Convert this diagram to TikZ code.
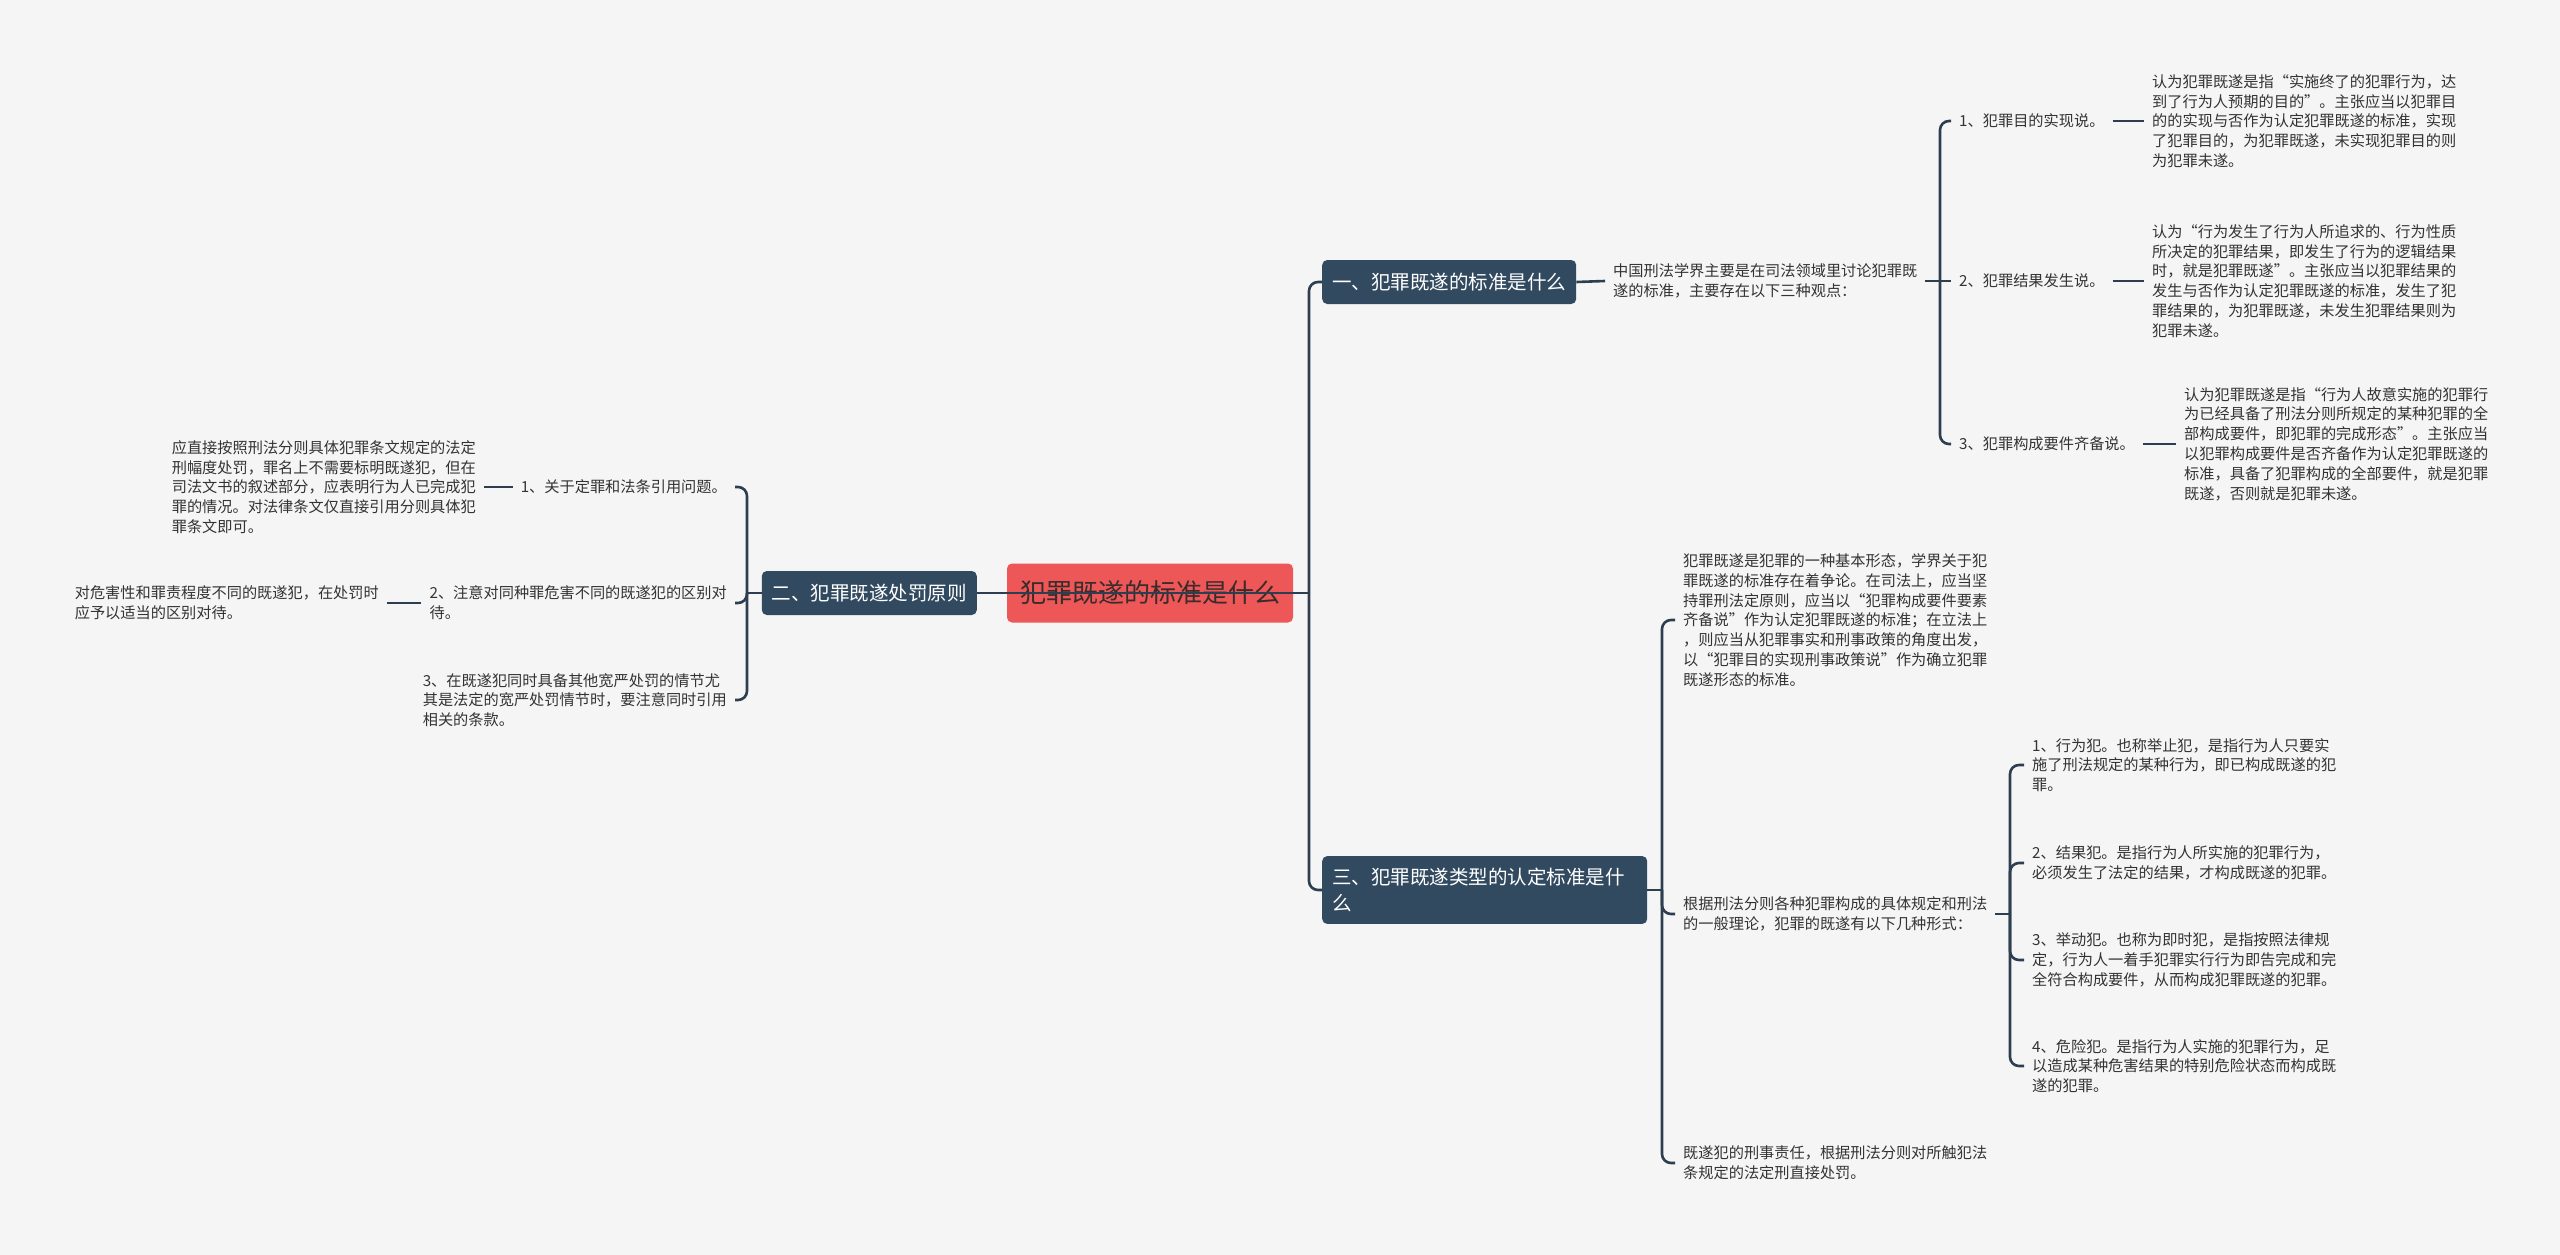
\documentclass[tikz,border=0pt]{standalone}
\usepackage{fontspec}
\setmainfont{Noto Sans CJK SC}

\definecolor{bgc}{HTML}{F5F5F5}
\definecolor{linec}{HTML}{2C3E50}
\definecolor{topicc}{HTML}{324A60}
\definecolor{rootc}{HTML}{EE5757}
\definecolor{roottext}{HTML}{3B2B2B}
\definecolor{leaftext}{HTML}{333333}

\tikzset{
  conn/.style={draw=linec, line width=2.6pt, rounded corners=9pt},
  rootbox/.style={fill=rootc, text=roottext, rounded corners=5pt,
    font=\fontsize{26}{30}\selectfont, minimum width=286pt, minimum height=59pt},
  topic/.style={fill=topicc, text=white, rounded corners=5pt, align=left,
    font=\fontsize{19.5}{26}\selectfont, inner xsep=10pt, inner ysep=12pt, minimum height=44pt},
  leaf/.style={text=leaftext, align=left, inner xsep=8pt, inner ysep=2pt,
    font=\fontsize{15.2}{19.8}\selectfont}
}

\begin{document}
\begin{tikzpicture}[x=1pt,y=-1pt]
  \fill[bgc] (0,0) rectangle (2560,1255);
  \useasboundingbox (0,0) rectangle (2560,1255);

  % centre and main topics
  \node[rootbox] (root) at (1150,593) {犯罪既遂的标准是什么};
  \node[topic, anchor=west] (sec1) at (1322,282) {一、犯罪既遂的标准是什么};
  \node[topic, anchor=east] (sec2) at (977,593) {二、犯罪既遂处罚原则};
  \node[topic, anchor=west, text width=305pt] (sec3) at (1322,890) {三、犯罪既遂类型的认定标准是什\\么};

  \coordinate (rt) at (1309,593);
  \coordinate (lt) at (747,593);
  \draw[conn] (sec2.east) -- (rt);
  \draw[conn] (sec2.west) -- (lt);
  \draw[conn] (rt) |- (sec1.west);
  \draw[conn] (rt) |- (sec3.west);

  % section one
  \node[leaf, anchor=west] (view) at (1605,281) {中国刑法学界主要是在司法领域里讨论犯罪既\\遂的标准，主要存在以下三种观点：};
  \node[leaf, anchor=west] (goal) at (1951,121) {1、犯罪目的实现说。};
  \node[leaf, anchor=west] (result) at (1951,281) {2、犯罪结果发生说。};
  \node[leaf, anchor=west] (elem) at (1951,444) {3、犯罪构成要件齐备说。};
  \node[leaf, anchor=west] (goaltxt) at (2144,121) {认为犯罪既遂是指“实施终了的犯罪行为，达\\到了行为人预期的目的”。主张应当以犯罪目\\的的实现与否作为认定犯罪既遂的标准，实现\\了犯罪目的，为犯罪既遂，未实现犯罪目的则\\为犯罪未遂。};
  \node[leaf, anchor=west] (resulttxt) at (2144,281) {认为“行为发生了行为人所追求的、行为性质\\所决定的犯罪结果，即发生了行为的逻辑结果\\时，就是犯罪既遂”。主张应当以犯罪结果的\\发生与否作为认定犯罪既遂的标准，发生了犯\\罪结果的，为犯罪既遂，未发生犯罪结果则为\\犯罪未遂。};
  \node[leaf, anchor=west] (elemtxt) at (2176,444) {认为犯罪既遂是指“行为人故意实施的犯罪行\\为已经具备了刑法分则所规定的某种犯罪的全\\部构成要件，即犯罪的完成形态”。主张应当\\以犯罪构成要件是否齐备作为认定犯罪既遂的\\标准，具备了犯罪构成的全部要件，就是犯罪\\既遂，否则就是犯罪未遂。};

  \coordinate (t1) at (1940,281);
  \draw[conn] (sec1.east) -- (view.west);
  \draw[conn] (view.east) -- (t1);
  \draw[conn] (t1) |- (goal.west);
  \draw[conn] (t1) -- (result.west);
  \draw[conn] (t1) |- (elem.west);
  \draw[conn] (goal.east) -- (goaltxt.west);
  \draw[conn] (result.east) -- (resulttxt.west);
  \draw[conn] (elem.east) -- (elemtxt.west);

  % section two
  \node[leaf, anchor=east] (conv) at (735,487) {1、关于定罪和法条引用问题。};
  \node[leaf, anchor=east] (harm) at (735,603) {2、注意对同种罪危害不同的既遂犯的区别对\\待。};
  \node[leaf, anchor=east] (cite) at (735,700) {3、在既遂犯同时具备其他宽严处罚的情节尤\\其是法定的宽严处罚情节时，要注意同时引用\\相关的条款。};
  \node[leaf, anchor=east] (convtxt) at (484,487) {应直接按照刑法分则具体犯罪条文规定的法定\\刑幅度处罚，罪名上不需要标明既遂犯，但在\\司法文书的叙述部分，应表明行为人已完成犯\\罪的情况。对法律条文仅直接引用分则具体犯\\罪条文即可。};
  \node[leaf, anchor=east] (harmtxt) at (387,603) {对危害性和罪责程度不同的既遂犯，在处罚时\\应予以适当的区别对待。};

  \draw[conn] (lt) |- (conv.east);
  \draw[conn] (lt) |- (harm.east);
  \draw[conn] (lt) |- (cite.east);
  \draw[conn] (conv.west) -- (convtxt.east);
  \draw[conn] (harm.west) -- (harmtxt.east);

  % section three
  \node[leaf, anchor=west] (basic) at (1675,620) {犯罪既遂是犯罪的一种基本形态，学界关于犯\\罪既遂的标准存在着争论。在司法上，应当坚\\持罪刑法定原则，应当以“犯罪构成要件要素\\齐备说”作为认定犯罪既遂的标准；在立法上\\，则应当从犯罪事实和刑事政策的角度出发，\\以“犯罪目的实现刑事政策说”作为确立犯罪\\既遂形态的标准。};
  \node[leaf, anchor=west] (forms) at (1675,914) {根据刑法分则各种犯罪构成的具体规定和刑法\\的一般理论，犯罪的既遂有以下几种形式：};
  \node[leaf, anchor=west] (liab) at (1675,1163) {既遂犯的刑事责任，根据刑法分则对所触犯法\\条规定的法定刑直接处罚。};
  \node[leaf, anchor=west] (act) at (2024,765) {1、行为犯。也称举止犯，是指行为人只要实\\施了刑法规定的某种行为，即已构成既遂的犯\\罪。};
  \node[leaf, anchor=west] (res) at (2024,863) {2、结果犯。是指行为人所实施的犯罪行为，\\必须发生了法定的结果，才构成既遂的犯罪。};
  \node[leaf, anchor=west] (inst) at (2024,960) {3、举动犯。也称为即时犯，是指按照法律规\\定，行为人一着手犯罪实行行为即告完成和完\\全符合构成要件，从而构成犯罪既遂的犯罪。};
  \node[leaf, anchor=west] (dang) at (2024,1066) {4、危险犯。是指行为人实施的犯罪行为，足\\以造成某种危害结果的特别危险状态而构成既\\遂的犯罪。};

  \coordinate (t3) at (1662,890);
  \coordinate (t4) at (2010,914);
  \draw[conn] (sec3.east) -- (t3);
  \draw[conn] (t3) |- (basic.west);
  \draw[conn] (t3) |- (forms.west);
  \draw[conn] (t3) |- (liab.west);
  \draw[conn] (forms.east) -- (t4);
  \draw[conn] (t4) |- (act.west);
  \draw[conn] (t4) |- (res.west);
  \draw[conn] (t4) |- (inst.west);
  \draw[conn] (t4) |- (dang.west);
\end{tikzpicture}
\end{document}
